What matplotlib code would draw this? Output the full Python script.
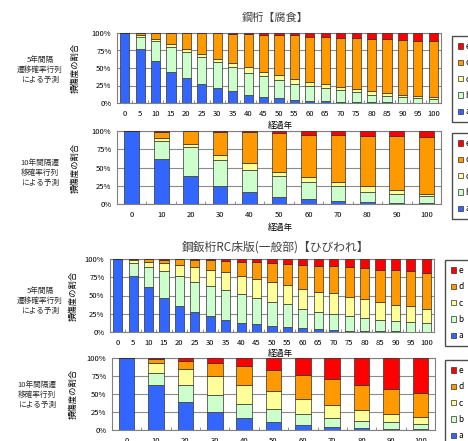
import matplotlib
matplotlib.use('Agg')
import matplotlib.pyplot as plt
from matplotlib.patches import Patch
import numpy as np

plt.rcParams['font.family'] = ['Noto Sans CJK JP', 'DejaVu Sans']

years5 = list(range(0, 101, 5))
years10 = list(range(0, 101, 10))
grades = ['a', 'b', 'c', 'd', 'e']
colors = {'a': '#3366FF', 'b': '#CCFFCC', 'c': '#FFFF99', 'd': '#FF9900', 'e': '#FF0000'}

# Panel 1: steel girder corrosion, 5-year transition matrix
corr5_a = [100, 76.5, 59.5, 45, 35.5, 26.5, 21, 16.5, 11.5, 8.5, 6.5, 5, 3.5, 3, 2, 1.5, 1, 1, 0.5, 0.5, 0.5]
corr5_b = [0, 18.5, 29.5, 35, 38, 39, 38, 34.5, 31.5, 30, 26, 22.5, 20.5, 18, 16, 14, 11, 9, 8, 6.5, 5.5]
corr5_c = [0, 1.5, 2, 4, 3.5, 5, 4, 5.5, 8.5, 6, 7, 6.5, 6, 6, 5, 5, 5, 4, 3.5, 3.5, 3]
corr5_d = [0, 3, 9, 16, 23, 29.5, 36.5, 42.5, 47, 53, 57, 62.5, 65, 67.5, 70.5, 72, 75, 77, 78, 78.5, 79]
corr5_e = [0, 0.5, 0, 0, 0, 0, 0.5, 1, 1.5, 2.5, 3.5, 3.5, 5, 5.5, 6.5, 7.5, 8, 9, 10, 11, 12]

# Panel 2: steel girder corrosion, 10-year transition matrix
corr10_a = [100, 61.5, 38.5, 25, 16, 9.5, 6.5, 4.5, 3, 2, 1]
corr10_b = [0, 24.5, 40, 35, 31, 29, 23.5, 20, 14, 12, 9.5]
corr10_c = [0, 4, 3.5, 7, 9, 6, 7, 5, 7, 5.5, 3.5]
corr10_d = [0, 9, 17.5, 31, 42, 52.5, 57.5, 65, 69.5, 73.5, 78]
corr10_e = [0, 1, 0.5, 2, 2, 3, 5.5, 5.5, 6.5, 7, 8]

# Panel 3: RC slab cracking, 5-year transition matrix
crack5_a = [100, 77, 61, 47, 36, 28, 22, 17, 13, 10.5, 8, 6.5, 5, 4, 3, 2, 1.5, 1, 1, 0.5, 0.5]
crack5_b = [0, 17.5, 27.5, 36, 41, 41, 41, 40, 38.5, 35.5, 33, 32, 26.5, 24, 22, 19.5, 17.5, 15, 13.5, 13, 11.5]
crack5_c = [0, 4, 7.5, 11, 15, 20, 22, 25, 25.5, 26.5, 28, 26, 27, 27, 28, 27, 26, 25, 23, 21.5, 19.5]
crack5_d = [0, 1.5, 3.5, 5, 7.5, 10, 13.5, 15, 19, 23.5, 26, 28.5, 33, 36, 38, 40, 42, 44.5, 47, 49, 49.5]
crack5_e = [0, 0, 0.5, 1, 0.5, 1, 1.5, 3, 4, 4, 5, 7, 8.5, 9, 9, 11.5, 13, 14.5, 15.5, 16, 19]

# Panel 4: RC slab cracking, 10-year transition matrix
crack10_a = [100, 62.5, 39.5, 25.5, 16, 11.5, 7, 4.5, 2.5, 1.5, 1]
crack10_b = [0, 17, 23.5, 23.5, 20, 18, 15, 12, 10, 9, 7]
crack10_c = [0, 14, 22, 25.5, 27, 24, 21.5, 18.5, 15.5, 12, 10]
crack10_d = [0, 5.5, 11.5, 18.5, 25.5, 30, 32.5, 36, 35, 34.5, 33]
crack10_e = [0, 1, 3.5, 7, 11.5, 16.5, 24, 29, 37, 43, 49]

title1 = '鋼桁【腐食】'
title3 = '鋼鈑桁RC床版(一般部)【ひびわれ】'
left5 = '5年間隔\n遷移確率行列\nによる予測'
left10 = '10年間隔遷\n移確率行列\nによる予測'
ylab = '損傷度の割合'
xlab = '経過年'

W, H = 468, 441
fig = plt.figure(figsize=(W / 100, H / 100), dpi=100)


def add_ax(l, r, t, b):
    return fig.add_axes([l / W, 1 - b / H, (r - l) / W, (b - t) / H])


def panel(ax, years, series, width, leg_xy):
    x = np.arange(len(years))
    bottom = np.zeros(len(years))
    for g, vals in zip(grades, series):
        v = np.array(vals, dtype=float)
        ax.bar(x, v, width, bottom=bottom, color=colors[g], edgecolor='#303030',
               linewidth=0.5, zorder=3)
        bottom += v
    ax.set_xlim(-0.5, len(years) - 0.5)
    ax.set_ylim(0, 100)
    ax.set_yticks([0, 25, 50, 75, 100])
    ax.set_yticklabels(['0%', '25%', '50%', '75%', '100%'], fontsize=5.5)
    ax.set_xticks(x)
    ax.set_xticklabels([str(y) for y in years], fontsize=5.5)
    ax.set_xticks(np.arange(len(years) + 1) - 0.5, minor=True)
    ax.tick_params(axis='x', which='major', length=0, pad=5)
    ax.tick_params(axis='x', which='minor', length=2, direction='in', color='#808080')
    ax.tick_params(axis='y', length=0, pad=4)
    ax.grid(axis='y', color='#8c8c8c', linewidth=0.8, zorder=0)
    for s in ax.spines.values():
        s.set_color('#808080')
        s.set_linewidth(0.8)
    ax.set_ylabel(ylab, fontsize=6)
    handles = [Patch(facecolor=colors[g], edgecolor='#303030', linewidth=0.5) for g in grades[::-1]]
    ax.legend(handles, grades[::-1], loc='upper left',
              bbox_to_anchor=(leg_xy[0] / W, 1 - leg_xy[1] / H), bbox_transform=fig.transFigure,
              frameon=True, fancybox=False, edgecolor='#202020', fontsize=6,
              handlelength=0.6, handleheight=0.6, handletextpad=0.3,
              labelspacing=0.88, borderpad=0.7, borderaxespad=0)


ax1 = add_ax(117, 441, 33, 103)
panel(ax1, years5, [corr5_a, corr5_b, corr5_c, corr5_d, corr5_e], 0.6, (452, 36))
ax1.yaxis.set_label_coords(-0.115, 0.5)
ax2 = add_ax(117, 441, 131, 204)
panel(ax2, years10, [corr10_a, corr10_b, corr10_c, corr10_d, corr10_e], 0.5, (452, 133))
ax2.yaxis.set_label_coords(-0.115, 0.5)
ax3 = add_ax(110, 434, 259, 332)
panel(ax3, years5, [crack5_a, crack5_b, crack5_c, crack5_d, crack5_e], 0.6, (445, 260))
ax3.yaxis.set_label_coords(-0.10, 0.5)
ax4 = add_ax(112, 435, 358, 430)
panel(ax4, years10, [crack10_a, crack10_b, crack10_c, crack10_d, crack10_e], 0.53, (445, 360))
ax4.yaxis.set_label_coords(-0.105, 0.5)

for ax, y in [(ax1, 125), (ax2, 227), (ax3, 353), (ax4, 452)]:
    fig.text(280 / W, 1 - y / H, xlab, fontsize=6, ha='center', va='center')

fig.text(275 / W, 1 - 18 / H, title1, fontsize=8, ha='center', va='center', color='#404040')
fig.text(276 / W, 1 - 247 / H, title3, fontsize=8.5, ha='center', va='center', color='#404040')

for (x, y, s) in [(40, 70, left5), (40, 173, left10), (40, 301, left5), (37, 395, left10)]:
    fig.text(x / W, 1 - y / H, s, fontsize=5.5, ha='center', va='center',
             linespacing=1.4, color='#303030')

fig.savefig('out.png', dpi=100)
